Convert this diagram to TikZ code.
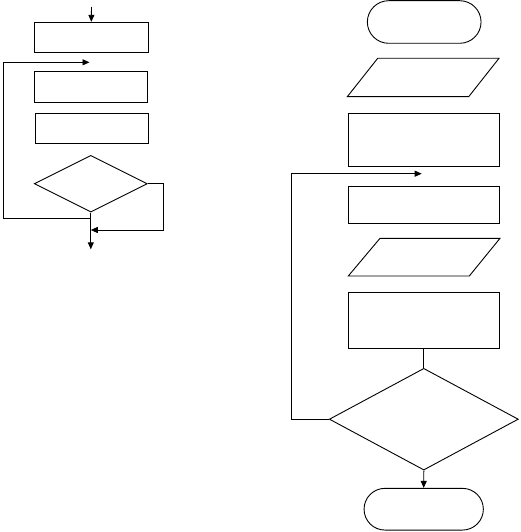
\documentclass[tikz,border=0pt]{standalone}
\usetikzlibrary{arrows.meta,shapes.geometric,shapes.misc}
\begin{document}
\begin{tikzpicture}[x=1pt,y=-1pt,line width=0.9pt,
  arr/.style={-{Triangle[length=7pt,width=6pt]}},
  box/.style={draw,rectangle,inner sep=0pt},
  dia/.style={draw,diamond,inner sep=0pt},
  term/.style={draw,rounded rectangle,inner sep=0pt}]
\useasboundingbox (0,0) rectangle (520,532);
% ---------- left chart ----------
\node[box,minimum width=114pt,minimum height=30pt] (b1) at (91.3,37.3) {};
\node[box,minimum width=113pt,minimum height=30.7pt] (b2) at (90.8,86.7) {};
\node[box,minimum width=113pt,minimum height=30pt] (b3) at (91.8,128.3) {};
\node[dia,minimum width=113pt,minimum height=56.7pt] (d1) at (90.8,183.7) {};
\coordinate (lt) at (91.5,7);
\coordinate (lb) at (3.3,218.3);
\coordinate (lend) at (89.5,62.3);
\coordinate (rr) at (163.3,230);
\coordinate (lout) at (90.8,249.3);
\draw[arr] (lt) -- (b1.north);
\draw[arr] (d1.south) -- (d1.south |- lb) -- (lb) |- (lend);
\draw[arr] (d1.east) -| (rr) -- (d1.south |- rr);
\draw[arr] (d1.south) -- (lout);
% ---------- right chart ----------
\node[term,minimum width=113.7pt,minimum height=42.6pt] (t1) at (424.2,22) {};
\draw (377.7,58.3) -- (499,58.3) -- (468.7,96.7) -- (347.3,96.7) -- cycle;
\coordinate (p1) at (423.2,77.5);
\node[box,minimum width=151.4pt,minimum height=52.7pt] (b4) at (424,139.7) {};
\node[box,minimum width=151.4pt,minimum height=36.3pt] (b5) at (424,204.8) {};
\draw (380,238.3) -- (500,238.3) -- (469.3,276) -- (348.3,276) -- cycle;
\coordinate (p2) at (424.2,257.2);
\node[box,minimum width=151pt,minimum height=56pt] (b6) at (423.8,320.3) {};
\node[dia,minimum width=189pt,minimum height=101.7pt] (d2) at (423.8,419.2) {};
\node[term,minimum width=119.3pt,minimum height=41.7pt] (t2) at (423.7,509.2) {};
\coordinate (rl) at (291,173.7);
\coordinate (rend) at (421.7,173.7);
\draw (b6.south) -- (d2.north);
\draw[arr] (d2.west) -| (rl) -- (rend);
\draw[arr] (d2.south) -- (t2.north);
\end{tikzpicture}
\end{document}
